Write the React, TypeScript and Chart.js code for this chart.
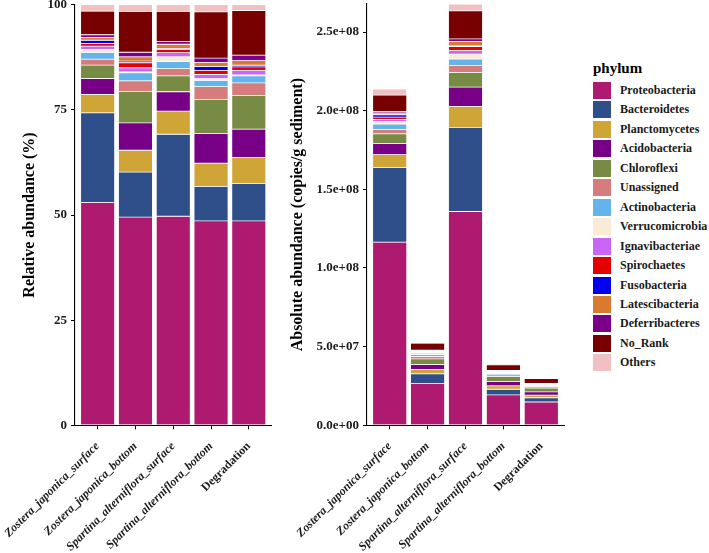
import React, { useEffect, useRef } from 'react';
import { Chart, registerables } from 'chart.js';

Chart.register(...registerables);

const SAMPLES = [
  'Zostera_japonica_surface',
  'Zostera_japonica_bottom',
  'Spartina_alterniflora_surface',
  'Spartina_alterniflora_bottom',
  'Degradation',
];

const PHYLA = [
  'Proteobacteria', 'Bacteroidetes', 'Planctomycetes', 'Acidobacteria', 'Chloroflexi',
  'Unassigned', 'Actinobacteria', 'Verrucomicrobia', 'Ignavibacteriae', 'Spirochaetes',
  'Fusobacteria', 'Latescibacteria', 'Deferribacteres', 'No_Rank', 'Others',
];

const PHYLUM_COLORS = [
  '#AE1A70', '#2E4F8A', '#CFA537', '#770087', '#778B45',
  '#D67C7C', '#64B3EA', '#FAEBD7', '#C966F7', '#E50000',
  '#0000F0', '#D87B30', '#7A0089', '#770000', '#F0C0C2',
];

// Relative abundance (%) per phylum, one value per sample
const relProteobacteria = [53.0, 49.5, 49.7, 48.6, 48.6];
const relBacteroidetes = [21.3, 10.7, 19.5, 8.2, 8.9];
const relPlanctomycetes = [4.35, 5.2, 5.5, 5.5, 6.2];
const relAcidobacteria = [3.8, 6.5, 4.6, 7.1, 6.7];
const relChloroflexi = [3.2, 7.5, 3.8, 8.1, 8.0];
const relUnassigned = [1.4, 2.5, 1.7, 3.0, 3.0];
const relActinobacteria = [1.6, 1.9, 1.7, 1.5, 1.7];
const relVerrucomicrobia = [0.7, 0.2, 1.1, 0.4, 0.2];
const relIgnavibacteriae = [0.8, 1.0, 1.0, 1.0, 1.1];
const relSpirochaetes = [0.6, 1.2, 0.8, 1.0, 0.8];
const relFusobacteria = [0.8, 0.4, 0.2, 0.9, 0.4];
const relLatescibacteria = [0.7, 1.0, 1.0, 1.0, 1.1];
const relDeferribacteres = [0.6, 1.1, 0.6, 1.0, 1.3];
const relNoRank = [5.6, 9.7, 7.2, 11.0, 10.6];
const relOthers = [1.55, 1.6, 1.6, 1.7, 1.4];

// Absolute abundance (copies/g sediment) per phylum
const absProteobacteria = [1.164e8, 2.67e7, 1.359e8, 1.93e7, 1.48e7];
const absBacteroidetes = [4.75e7, 6.0e6, 5.35e7, 3.6e6, 2.7e6];
const absPlanctomycetes = [8.1e6, 2.9e6, 1.33e7, 2.2e6, 1.7e6];
const absAcidobacteria = [7.0e6, 3.0e6, 1.23e7, 2.8e6, 2.0e6];
const absChloroflexi = [6.3e6, 3.6e6, 9.3e6, 3.0e6, 2.5e6];
const absUnassigned = [2.8e6, 1.5e6, 4.5e6, 1.2e6, 1.0e6];
const absActinobacteria = [3.4e6, 1.3e6, 4.0e6, 7.0e5, 5.0e5];
const absVerrucomicrobia = [1.5e6, 4.0e5, 3.2e6, 2.0e5, 1.0e5];
const absIgnavibacteriae = [1.4e6, 6.0e5, 2.2e6, 4.0e5, 3.0e5];
const absSpirochaetes = [1.5e6, 6.0e5, 2.5e6, 4.0e5, 3.0e5];
const absFusobacteria = [1.5e6, 3.0e5, 4.0e5, 3.0e5, 1.0e5];
const absLatescibacteria = [1.1e6, 4.0e5, 2.8e6, 4.0e5, 3.0e5];
const absDeferribacteres = [1.0e6, 4.0e5, 1.7e6, 4.0e5, 4.0e5];
const absNoRank = [1.04e7, 4.5e6, 1.78e7, 3.5e6, 3.0e6];
const absOthers = [3.8e6, 6.0e5, 4.4e6, 7.0e5, 4.0e5];

const REL_SERIES = [
  relProteobacteria, relBacteroidetes, relPlanctomycetes, relAcidobacteria, relChloroflexi,
  relUnassigned, relActinobacteria, relVerrucomicrobia, relIgnavibacteriae, relSpirochaetes,
  relFusobacteria, relLatescibacteria, relDeferribacteres, relNoRank, relOthers,
];
const ABS_SERIES = [
  absProteobacteria, absBacteroidetes, absPlanctomycetes, absAcidobacteria, absChloroflexi,
  absUnassigned, absActinobacteria, absVerrucomicrobia, absIgnavibacteriae, absSpirochaetes,
  absFusobacteria, absLatescibacteria, absDeferribacteres, absNoRank, absOthers,
];

const REL_TICKS = [0, 25, 50, 75, 100];
const ABS_TICKS = [0, 5e7, 1e8, 1.5e8, 2e8, 2.5e8];

const FONT = "'Liberation Serif', 'Times New Roman', Times, serif";
const TEXT = '#1a1a1a';

const fmtRel = (v: number) => String(v);
const fmtAbs = (v: number) =>
  v.toExponential(1).replace(/e([+-])(\d)$/, 'e$10$2');

type Geom = {
  padLeft: number; padRight: number; padTop: number;
  yWidth: number; xHeight: number; titlePad: number;
};

function buildConfig(series: number[][], yTicks: number[], yTitle: string,
  fmt: (v: number) => string, yMax: number, g: Geom): any {
  return {
    type: 'bar',
    data: {
      datasets: PHYLA.map((name, k) => ({
        label: name,
        data: series[k].map((v, i) => ({ x: i + 1, y: v })),
        backgroundColor: PHYLUM_COLORS[k],
        borderColor: 'rgba(255,255,255,0.8)',
        borderWidth: 0.4,
        borderSkipped: false,
        barPercentage: 0.9,
        categoryPercentage: 1,
      })),
    },
    options: {
      animation: false,
      responsive: false,
      devicePixelRatio: 1,
      layout: { padding: { left: g.padLeft, right: g.padRight, top: g.padTop, bottom: 0 } },
      plugins: { legend: { display: false }, tooltip: { enabled: false } },
      scales: {
        x: {
          type: 'linear',
          offset: false,
          stacked: true,
          min: 0.4,
          max: 5.6,
          afterBuildTicks: (s: any) => { s.ticks = SAMPLES.map((_, i) => ({ value: i + 1 })); },
          afterFit: (s: any) => { s.height = g.xHeight; s.paddingLeft = 0; s.paddingRight = 0; },
          border: { display: true, color: '#000', width: 1.1 },
          grid: { display: true, offset: false, drawOnChartArea: false, drawTicks: true, tickLength: 4, color: '#000', lineWidth: 1 },
          ticks: {
            autoSkip: false,
            minRotation: 45,
            maxRotation: 45,
            padding: 10,
            color: TEXT,
            callback: (v: number) => SAMPLES[Math.round(v) - 1] ?? '',
            font: (ctx: any) => ({
              family: FONT, size: 12, weight: 'bold',
              style: ctx.index === SAMPLES.length - 1 ? 'normal' : 'italic',
            }),
          },
        },
        y: {
          stacked: true,
          min: 0,
          max: yMax,
          afterBuildTicks: (s: any) => { s.ticks = yTicks.map((v) => ({ value: v })); },
          afterFit: (s: any) => { s.width = g.yWidth; s.paddingTop = 0; s.paddingBottom = 0; },
          border: { display: true, color: '#000', width: 1.1 },
          grid: { display: true, drawOnChartArea: false, drawTicks: true, tickLength: 4, color: '#000', lineWidth: 1 },
          ticks: {
            padding: 4,
            color: TEXT,
            callback: (v: number) => fmt(v),
            font: { family: FONT, size: 13, weight: 'bold' },
          },
          title: {
            display: true,
            text: yTitle,
            color: '#000',
            font: { family: FONT, size: 16, weight: 'bold' },
            padding: { top: g.titlePad, bottom: 0 },
          },
        },
      },
    },
  };
}

function BarPanel(props: {
  series: number[][]; yTicks: number[]; yTitle: string; fmt: (v: number) => string;
  yMax: number; g: Geom; left: number; width: number;
}) {
  const ref = useRef<HTMLCanvasElement | null>(null);
  useEffect(() => {
    if (!ref.current) return;
    const chart = new Chart(ref.current, buildConfig(props.series, props.yTicks, props.yTitle, props.fmt, props.yMax, props.g));
    return () => chart.destroy();
  }, []);
  return (
    <canvas
      ref={ref}
      width={props.width}
      height={553}
      style={{ position: 'absolute', left: props.left, top: 0, width: props.width, height: 553 }}
    />
  );
}

export default function App() {
  const absMax = Math.max(...SAMPLES.map((_, i) => ABS_SERIES.reduce((s, arr) => s + arr[i], 0)));
  return (
    <div style={{ position: 'absolute', left: 0, top: 0, width: 709, height: 553, background: '#fff', overflow: 'hidden' }}>
      <BarPanel
        series={REL_SERIES}
        yTicks={REL_TICKS}
        yTitle="Relative abundance (%)"
        fmt={fmtRel}
        yMax={100}
        left={0}
        width={285}
        g={{ padLeft: 4, padRight: 13.5, padTop: 4.7, yWidth: 71, xHeight: 127.7, titlePad: 16.4 }}
      />
      <BarPanel
        series={ABS_SERIES}
        yTicks={ABS_TICKS}
        yTitle="Absolute abundance (copies/g sediment)"
        fmt={fmtAbs}
        yMax={absMax}
        left={280}
        width={300}
        g={{ padLeft: 8, padRight: 16, padTop: 4, yWidth: 79, xHeight: 127.7, titlePad: 0.4 }}
      />
      <div style={{ position: 'absolute', left: 593, top: 60, font: `bold 15px ${FONT}`, color: '#000' }}>phylum</div>
      {PHYLA.map((p, k) => (
        <div
          key={p}
          style={{ position: 'absolute', left: 593, top: 82 + k * 19.45, height: 17, display: 'flex', alignItems: 'center' }}
        >
          <span style={{ display: 'inline-block', width: 18, height: 17, background: PHYLUM_COLORS[k] }} />
          <span style={{ marginLeft: 9, font: `bold 12px ${FONT}`, color: TEXT, whiteSpace: 'nowrap' }}>{p}</span>
        </div>
      ))}
    </div>
  );
}
